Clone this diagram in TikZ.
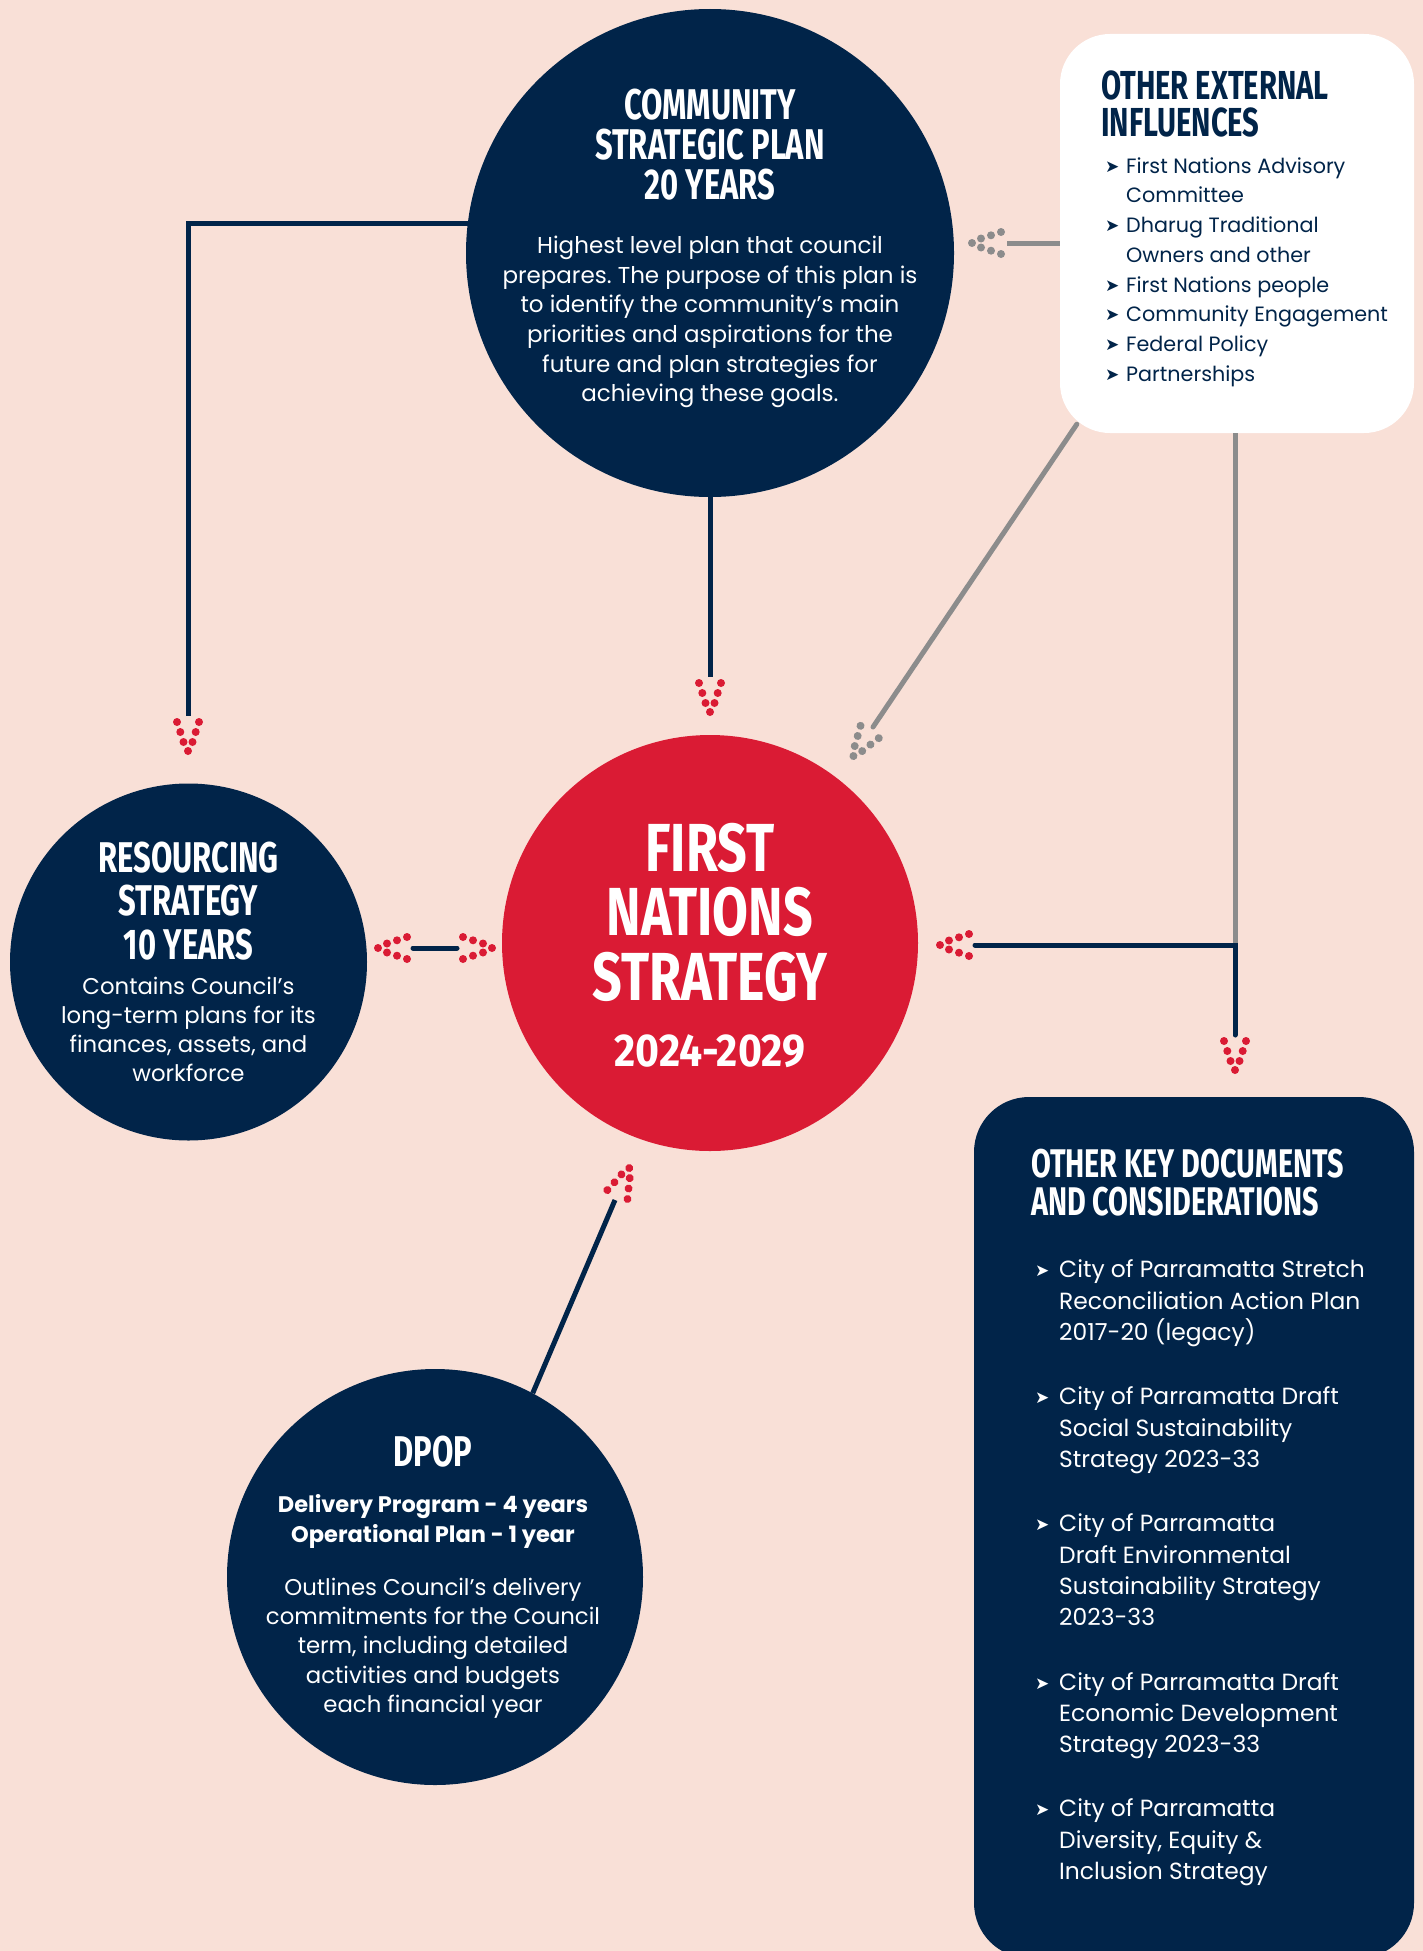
\documentclass[tikz,border=0pt]{standalone}
\usepackage{fontspec}
\setmainfont{Poppins}
\newfontfamily\headfont[FakeStretch=0.72]{Fira Sans}
\newfontfamily\bigfont[FakeStretch=0.765]{Fira Sans}
\newfontfamily\yearfont[FakeStretch=0.89]{Fira Sans}
\newfontfamily\symfont{DejaVu Sans}
\usepackage{xcolor}
\definecolor{peach}{RGB}{249, 224, 215}
\definecolor{navy}{RGB}{1, 36, 73}
\definecolor{fnred}{RGB}{218, 27, 52}
\definecolor{linegray}{RGB}{140, 140, 140}
\usepackage{tikz}
\usetikzlibrary{positioning, calc}
\frenchspacing

\newlength{\bulw}
\newcommand{\bul}{\makebox[\bulw][l]{\raisebox{1pt}{\symfont\fontsize{17}{17}\selectfont ➤}}}
\newcommand{\indt}{\hspace*{\bulw}}

\tikzset{
  bubble/.style={circle, inner sep=0pt, fill=navy},
  heading/.style={align=center, text=white, inner sep=0pt,
                  font=\headfont\bfseries\fontsize{43}{40}\selectfont},
  body/.style={align=center, text=white, inner sep=0pt,
               font=\fontsize{23}{29.6}\selectfont},
  link/.style={line width=5pt, line cap=round, draw=navy},
  glink/.style={link, draw=linegray},
  dothead/.pic={
    \foreach \d/\w in {6/11, 16/7.7, 26/4.5}{
      \fill (\d,\w) circle (4);
      \fill (\d,-\w) circle (4);
    }
    \fill (35,0) circle (4);
  }
}

\begin{document}
\begin{tikzpicture}[x=1pt, y=1pt]
    \useasboundingbox (0,0) rectangle (1423,-1951);
    \clip (0,0) rectangle (1423,-1951);
    \fill[peach] (0,0) rectangle (1423,-1951);

    % circles
    \node[bubble, minimum size=488pt] (csp) at (710,-253) {};
    \node[bubble, fill=fnred, minimum size=416pt] (fns) at (710,-943) {};
    \node[bubble, minimum size=357pt] (res) at (188.5,-962) {};
    \node[bubble, minimum size=416pt] (dpop) at (435,-1577) {};

    % side boxes
    \node[rounded corners=50pt, fill=white, minimum width=354pt,
          minimum height=399pt, inner sep=0pt] (ext) at (1237,-233.5) {};
    \node[rounded corners=55pt, fill=navy, minimum width=440pt,
          minimum height=861pt, inner sep=0pt] (docs) at (1194,-1527.5) {};

    % texts
    \node[heading] (cspT) at ([yshift=108]csp) {COMMUNITY\\STRATEGIC PLAN\\20 YEARS};
    \node[body] (cspB) at ([yshift=-69]csp)
         {Highest level plan that council\\prepares. The purpose of this plan is\\to identify the community’s main\\priorities and aspirations for the\\future and plan strategies for\\achieving these goals.};

    \node[heading, font=\bigfont\bfseries\fontsize{68}{64.5}\selectfont]
         (fnsT) at ([yshift=31]fns) {FIRST\\NATIONS\\STRATEGY};
    \node[heading, font=\yearfont\bfseries\fontsize{46}{46}\selectfont]
         (fnsY) at ([yshift=-108]fns) {2024-2029};

    \node[heading, font=\headfont\bfseries\fontsize{43}{43.5}\selectfont]
         (resT) at ([yshift=61]res) {RESOURCING\\STRATEGY\\10 YEARS};
    \node[body, font=\fontsize{22.8}{29}\selectfont] (resB) at ([yshift=-67.5]res)
         {Contains Council’s\\long-term plans for its\\finances, assets, and\\workforce};

    \node[heading] (dpopT) at ([xshift=-2, yshift=125]dpop) {DPOP};
    \node[body, font=\bfseries\fontsize{22.5}{30}\selectfont] (dpopS) at ([xshift=-2, yshift=56]dpop)
         {Delivery Program - 4 years\\Operational Plan - 1 year};
    \node[body, font=\fontsize{22.8}{29.25}\selectfont] (dpopB) at ([xshift=-2, yshift=-71]dpop)
         {Outlines Council’s delivery\\commitments for the Council\\term, including detailed\\activities and budgets\\each financial year};

    \node[heading, align=left, anchor=west, text=navy,
          font=\headfont\bfseries\fontsize{40.5}{37}\selectfont]
         (extT) at (1101,-103.5) {OTHER EXTERNAL\\INFLUENCES};
    \node[body, align=left, anchor=west, text=navy,
          font=\fontsize{20.7}{29.7}\selectfont\setlength{\bulw}{21pt}]
         (extL) at (1105,-272)
         {\bul First Nations Advisory\\\indt Committee\\\bul Dharug Traditional\\\indt Owners and other\\\bul First Nations people\\\bul Community Engagement\\\bul Federal Policy\\\bul Partnerships};

    \node[heading, align=left, anchor=west,
          font=\headfont\bfseries\fontsize{40}{38}\selectfont]
         (docsT) at (1031,-1183) {OTHER KEY DOCUMENTS\\AND CONSIDERATIONS};
    \node[body, align=left, anchor=west,
          font=\fontsize{23.4}{31.4}\selectfont\setlength{\bulw}{24pt}]
         (docsL) at (1035,-1573)
         {\bul City of Parramatta Stretch\\\indt Reconciliation Action Plan\\\indt 2017-20 (legacy)\\[32.7pt]
          \bul City of Parramatta Draft\\\indt Social Sustainability\\\indt Strategy 2023-33\\[32.7pt]
          \bul City of Parramatta\\\indt Draft Environmental\\\indt Sustainability Strategy\\\indt 2023-33\\[32.7pt]
          \bul City of Parramatta Draft\\\indt Economic Development\\\indt Strategy 2023-33\\[32.7pt]
          \bul City of Parramatta\\\indt Diversity, Equity \&\\\indt Inclusion Strategy};

    % connector ends
    \coordinate (resA) at (188,-716);
    \coordinate (fnsA) at (710,-677);
    \coordinate (extA) at (1007,-243);
    \coordinate (fnsG) at (873,-727);
    \coordinate (fnsB) at (975,-945);
    \coordinate (docA) at (1235,-1035);
    \coordinate (resB) at (413,-948);
    \coordinate (fnsC) at (457,-948);
    \coordinate (fnsD) at (615,-1200);

    % connectors
    \draw[link, line cap=butt] (csp.173.4) -| (resA);
    \draw[link, line cap=butt] (csp.south) -- (fnsA);
    \draw[glink, line cap=butt] (extA -| ext.west) -- (extA);
    \draw[glink] ([shift={(17,9)}]ext.south west) -- (fnsG);
    \draw[glink, line cap=butt] ([xshift=-2]ext.south) -- (docA |- fnsB);
    \draw[link] (fnsB) -| (docA);
    \draw[link] (resB) -- (fnsC);
    \draw[link, line cap=butt] (dpop.62.8) -- (fnsD);

    % dotted heads
    \pic[rotate=-90, fill=fnred] at (resA) {dothead};
    \pic[rotate=-90, fill=fnred] at (fnsA) {dothead};
    \pic[rotate=180, fill=linegray] at (extA) {dothead};
    \pic[rotate=236, fill=linegray] at (fnsG) {dothead};
    \pic[rotate=180, fill=fnred] at (fnsB) {dothead};
    \pic[rotate=-90, fill=fnred] at (docA) {dothead};
    \pic[rotate=180, fill=fnred] at (resB) {dothead};
    \pic[fill=fnred] at (fnsC) {dothead};
    \pic[rotate=66, fill=fnred] at (fnsD) {dothead};
\end{tikzpicture}
\end{document}
